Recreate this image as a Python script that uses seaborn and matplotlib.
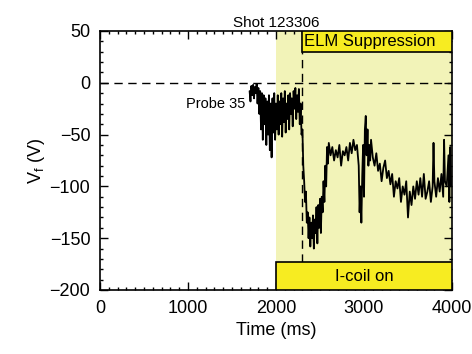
import numpy as np
import pandas as pd
import matplotlib
matplotlib.use("Agg")
import matplotlib.pyplot as plt
import seaborn as sns
from matplotlib.ticker import MultipleLocator
from matplotlib.patches import Rectangle

# ---- data ----
time_ms = [1700, 1710, 1720, 1730, 1740, 1750, 1760, 1770, 1780, 1790,
           1800, 1810, 1820, 1830, 1840, 1850, 1860, 1870, 1880, 1890,
           1900, 1910, 1920, 1930, 1940, 1950, 1960, 1970, 1980, 1990,
           2000, 2010, 2020, 2030, 2040, 2050, 2060, 2070, 2080, 2090,
           2100, 2110, 2120, 2130, 2140, 2150, 2160, 2170, 2180, 2190,
           2200, 2210, 2220, 2230, 2240, 2250, 2260, 2270, 2280, 2290,
           2300, 2310, 2320, 2330, 2340, 2350, 2360, 2370, 2380, 2390,
           2400, 2410, 2420, 2430, 2440, 2450, 2460, 2470, 2480, 2490,
           2500, 2510, 2520, 2530, 2540, 2550, 2560, 2570, 2580, 2590,
           2600, 2620, 2640, 2660, 2680, 2700, 2720, 2740, 2760, 2780,
           2800, 2820, 2840, 2860, 2880, 2900, 2920, 2940, 2950, 2960,
           2970, 2980, 2990, 3000, 3010, 3020, 3030, 3040, 3050, 3060,
           3070, 3080, 3100, 3120, 3140, 3160, 3180, 3200, 3220, 3240,
           3260, 3280, 3300, 3320, 3340, 3360, 3380, 3400, 3420, 3440,
           3460, 3480, 3500, 3520, 3540, 3560, 3580, 3600, 3620, 3640,
           3660, 3680, 3700, 3720, 3740, 3760, 3780, 3790, 3800, 3820,
           3840, 3860, 3880, 3900, 3910, 3920, 3940, 3960, 3970, 3980,
           3990]
vf_volts = [-8, -18, -3, -12, -2, -15, -4, -10, -1, -20,
            -5, -30, -8, -45, -10, -55, -12, -40, -15, -60,
            -18, -50, -12, -65, -20, -72, -15, -48, -10, -55,
            -20, -45, -12, -50, -18, -40, -10, -52, -15, -38,
            -8, -48, -20, -35, -12, -45, -10, -30, -15, -42,
            -8, -25, -5, -35, -12, -28, -6, -40, -20, -50,
            -45, -80, -95, -115, -105, -135, -125, -150, -130, -158,
            -135, -150, -128, -160, -132, -145, -120, -155, -118, -140,
            -112, -145, -110, -125, -95, -115, -80, -100, -62, -78,
            -58, -70, -62, -75, -65, -72, -60, -80, -66, -70,
            -62, -75, -58, -68, -55, -65, -60, -80, -125, -100,
            -135, -90, -60, -110, -45, -32, -70, -45, -80, -60,
            -75, -55, -72, -80, -68, -85, -78, -95, -82, -75,
            -92, -85, -98, -88, -110, -95, -102, -92, -115, -100,
            -108, -95, -130, -105, -118, -100, -112, -95, -108, -92,
            -110, -88, -112, -105, -95, -115, -100, -58, -95, -110,
            -92, -105, -88, -110, -55, -95, -100, -70, -115, -62,
            -100]

x_ticks = [0, 1000, 2000, 3000, 4000]
y_ticks = [-200, -150, -100, -50, 0, 50]
icoil_start = 2000
elm_start = 2300
x_end = 4000

df = pd.DataFrame({"Time (ms)": time_ms, "Vf": vf_volts})

sns.set_style("ticks")
plt.rcParams["font.family"] = ["Liberation Sans", "DejaVu Sans"]
plt.rcParams["mathtext.fontset"] = "custom"
plt.rcParams["mathtext.rm"] = "Liberation Sans"
plt.rcParams["mathtext.it"] = "Liberation Sans:italic"
for k in ["text.color", "axes.labelcolor", "xtick.color", "ytick.color", "axes.edgecolor"]:
    plt.rcParams[k] = "black"

fig = plt.figure(figsize=(4.72, 3.54), dpi=100)
ax = fig.add_axes([100/472, 64/354, 352/472, 259/354])

light = "#f2f3b8"
bright = "#f7ec21"

ax.axvspan(icoil_start, x_end, color=light, zorder=0, lw=0)
ax.axhline(0, color="black", lw=1.0, dashes=(6, 4), zorder=1)
ax.axvline(elm_start, color="black", lw=1.0, dashes=(6, 4), zorder=1)

sns.lineplot(data=df, x="Time (ms)", y="Vf", ax=ax, color="black",
             lw=1.3, zorder=2, estimator=None, sort=False)

ax.add_patch(Rectangle((elm_start, 30), x_end - elm_start, 20,
                       facecolor=bright, edgecolor="black", lw=1.2, zorder=3))
ax.text(elm_start + 20, 40, "ELM Suppression", fontsize=12,
        va="center", ha="left", zorder=4)
ax.add_patch(Rectangle((icoil_start, -200), x_end - icoil_start, 27,
                       facecolor=bright, edgecolor="black", lw=1.2, zorder=3))
ax.text((icoil_start + x_end) / 2, -186.5, "I-coil on", fontsize=12,
        va="center", ha="center", zorder=4)

ax.text(1650, -20, "Probe 35", fontsize=10.5, ha="right", va="center")

ax.set_xlim(0, x_end)
ax.set_ylim(-200, 50)
ax.set_xticks(x_ticks)
ax.set_yticks(y_ticks)
ax.set_yticklabels(["\u2212200", "\u2212150", "\u2212100", "\u221250", "0", "50"])
ax.xaxis.set_minor_locator(MultipleLocator(100))
ax.yaxis.set_minor_locator(MultipleLocator(10))
ax.tick_params(which="both", direction="in", top=True, right=True,
               labelsize=13, width=1.0, colors="black")
ax.tick_params(which="major", length=6, pad=7)
ax.tick_params(which="minor", length=2.5)
for s in ax.spines.values():
    s.set_linewidth(1.2)
    s.set_color("black")

ax.set_xlabel("Time (ms)", fontsize=13, labelpad=4)
ax.set_ylabel(r"V$_\mathrm{f}$ (V)", fontsize=13, labelpad=2)
ax.set_title("Shot 123306", fontsize=11, pad=3)

fig.savefig("out.png", dpi=100)
